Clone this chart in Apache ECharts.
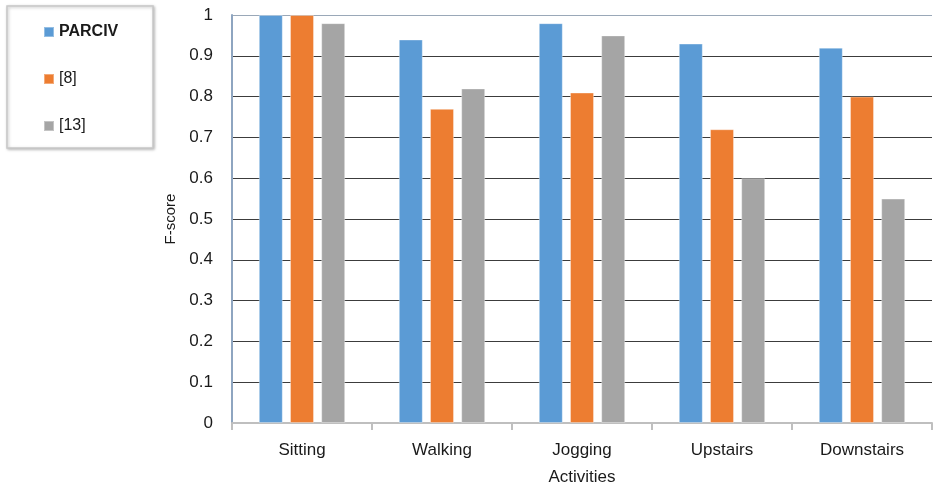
<!DOCTYPE html>
<html>
<head>
<meta charset="utf-8">
<script src="https://cdn.jsdelivr.net/npm/echarts@6/dist/echarts.min.js"></script>
<style>
  html, body { margin: 0; padding: 0; background: #fff; }
  #chart { width: 933px; height: 491px; }
</style>
</head>
<body>
<div id="chart"></div>
<script>
// Activities and per-method F-scores
const activities = ['Sitting', 'Walking', 'Jogging', 'Upstairs', 'Downstairs'];
const parciv = [1.00, 0.94, 0.98, 0.93, 0.92];
const ref8 = [1.00, 0.77, 0.81, 0.72, 0.80];
const ref13 = [0.98, 0.82, 0.95, 0.60, 0.55];
const seriesNames = ['PARCIV', '[8]', '[13]'];
const yTicks = [0, 0.1, 0.2, 0.3, 0.4, 0.5, 0.6, 0.7, 0.8, 0.9, 1];

const FONT = '"Liberation Sans", Arial, sans-serif';
const TXT = '#1a1a1a';

const chart = echarts.init(document.getElementById('chart'), null, { renderer: 'canvas' });

// grid line colours: bottom hidden under the x axis, top edge lighter
const splitColors = yTicks.map((v, i) => i === yTicks.length - 1 ? '#9aa8b8' : '#3c3c3c');

const barStyle = (color) => ({ color: color, borderColor: 'rgba(255,255,255,0.35)', borderWidth: 1 });

chart.setOption({
  animation: false,
  textStyle: { fontFamily: FONT },
  graphic: [{
    type: 'rect',
    shape: { x: 7, y: 6, width: 146, height: 142 },
    style: { fill: '#fff', stroke: '#c8c8c8', lineWidth: 1.5, shadowBlur: 3, shadowColor: 'rgba(0,0,0,0.25)', shadowOffsetX: 1, shadowOffsetY: 1 },
    z: 0
  }],
  legend: {
    orient: 'vertical',
    left: 43,
    top: 24,
    padding: 0,
    itemWidth: 10,
    itemHeight: 10,
    itemGap: 31,
    icon: 'rect',
    data: [
      { name: seriesNames[0], textStyle: { fontWeight: 'bold' } },
      { name: seriesNames[1] },
      { name: seriesNames[2] }
    ],
    textStyle: { fontFamily: FONT, fontSize: 16, color: TXT, lineHeight: 16 },
    z: 5
  },
  grid: { left: 232, right: 1, top: 15, bottom: 66, containLabel: false },
  xAxis: {
    type: 'category',
    data: activities,
    name: 'Activities',
    nameLocation: 'middle',
    nameGap: 46,
    nameTextStyle: { fontSize: 17, color: TXT, fontFamily: FONT },
    axisLine: { lineStyle: { color: '#bfbfbf', width: 2 } },
    axisTick: { show: true, length: 7, lineStyle: { color: '#bfbfbf', width: 2 } },
    axisLabel: { fontSize: 17, color: TXT, margin: 19, fontFamily: FONT }
  },
  yAxis: {
    type: 'value',
    min: 0, max: 1, interval: 0.1,
    name: 'F-score',
    nameLocation: 'middle',
    nameGap: 46,
    nameRotate: 90,
    nameTextStyle: { fontSize: 15, color: TXT, fontFamily: FONT },
    axisLine: { show: true, lineStyle: { color: '#8ea5c0', width: 2 } },
    axisTick: { show: false },
    axisLabel: {
      fontSize: 17, color: TXT, margin: 19, fontFamily: FONT,
      formatter: function (v) { return String(Math.round(v * 10) / 10); }
    },
    splitLine: { show: true, lineStyle: { color: splitColors, width: 1 } }
  },
  series: [
    { name: seriesNames[0], type: 'bar', data: parciv, barWidth: 24, barGap: '30%', itemStyle: barStyle('#5b9bd5') },
    { name: seriesNames[1], type: 'bar', data: ref8, barWidth: 24, barGap: '30%', itemStyle: barStyle('#ed7d31') },
    { name: seriesNames[2], type: 'bar', data: ref13, barWidth: 24, barGap: '30%', itemStyle: barStyle('#a5a5a5') }
  ]
});
</script>
</body>
</html>
